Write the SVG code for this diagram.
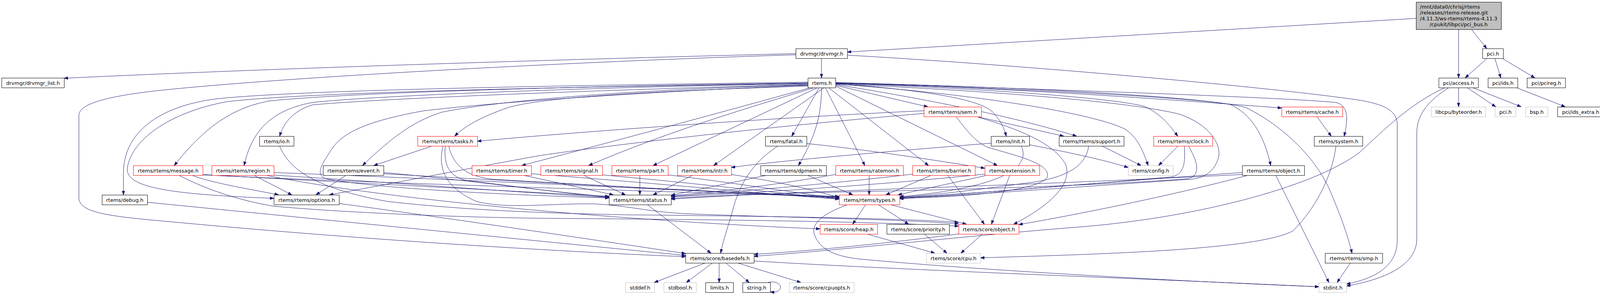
<svg xmlns="http://www.w3.org/2000/svg" width="4110" height="754" viewBox="0 0 4110 754">
<style>
.node rect{fill:#ffffff;stroke:#000000;stroke-width:1}
.node.red rect{stroke:#ff0000}
.node.ext rect{stroke:#bfbfbf}
.node text{font-family:"DejaVu Sans","Liberation Sans",sans-serif;font-size:13px;fill:#000000;text-anchor:middle}
#edges path{fill:none;stroke:#191970;stroke-width:1;marker-end:url(#arr)}
</style>
<defs>
<marker id="arr" markerUnits="userSpaceOnUse" markerWidth="11" markerHeight="8" refX="10" refY="4" orient="auto">
<path d="M0,0.5 L10,4 L0,7.5 z" fill="#191970" stroke="#191970" stroke-width="1"/>
</marker>
</defs>
<rect width="4110" height="754" fill="#ffffff"/>
<g id="edges">
<path d="M3625,47 L2169,133"/>
<path d="M3734,75 L3734,199"/>
<path d="M3767,75 L3806,124"/>
<path d="M3806,150 L3751,199"/>
<path d="M3827,150 L3842,199"/>
<path d="M3847,150 L3929,199"/>
<path d="M3882,224 L4007,273"/>
<path d="M3734,224 L3734,273"/>
<path d="M3756,224 L3829,273"/>
<path d="M3770,224 L3894,273"/>
<path d="M3709,224 C3660,255 3627,290 3627,340 L3627,610 C3627,680 3540,715 3447,731"/>
<path d="M3699,224 C3610,265 3545,330 3480,390 C3360,480 3050,560 2740,582 C2450,605 2150,640 1930,655"/>
<path d="M2037,137 C1600,148 800,170 164,200"/>
<path d="M2037,140 C1400,160 700,200 400,232 C260,248 202,268 202,295 L202,505 C202,545 280,553 450,568 C900,610 1400,642 1755,656"/>
<path d="M2103,150 L2103,199"/>
<path d="M2169,141 C2600,165 3250,222 3480,256 C3550,268 3577,285 3577,320 L3577,614 C3577,680 3520,712 3447,726"/>
<path d="M2068,210 C1500,218 800,228 560,252 C420,268 318,330 316,440 L316,498"/>
<path d="M2068,212 C1500,220 900,236 690,258 C590,276 520,330 446,423"/>
<path d="M2068,214 C1500,223 950,245 800,262 C700,280 645,330 625,423"/>
<path d="M2068,213 C1500,222 800,234 580,260 C430,288 335,360 326,430 C320,482 450,497 701,507"/>
<path d="M2068,216 C1600,228 1000,250 800,268 C745,285 724,320 716,348"/>
<path d="M2068,217 C1700,226 1300,252 1130,287 C1060,310 1010,345 928,423"/>
<path d="M2068,218 C1700,232 1250,262 1080,284 C950,308 880,335 850,380 C820,425 805,450 840,458 C950,478 1200,495 1559,506"/>
<path d="M2068,220 C1700,232 1400,246 1300,275 C1230,300 1190,322 1164,348"/>
<path d="M2075,224 C1800,300 1500,380 1336,423"/>
<path d="M2085,224 C1900,280 1700,340 1507,423"/>
<path d="M2093,224 L1672,423"/>
<path d="M2110,224 L1827,423"/>
<path d="M2097,224 L2027,348"/>
<path d="M2103,224 C2103,290 2090,345 2044,423"/>
<path d="M2113,224 L2214,423"/>
<path d="M2121,224 L2377,423"/>
<path d="M2139,220 L2553,423"/>
<path d="M2139,218 L2375,273"/>
<path d="M2139,213 C2350,230 2500,250 2540,285 C2560,305 2570,325 2576,348"/>
<path d="M2139,216 C2400,258 2600,300 2756,348"/>
<path d="M2139,215 C2500,240 2800,290 2880,330 C2910,350 2925,380 2939,423"/>
<path d="M2139,213 C2500,225 2850,250 2930,272 C2970,290 2995,320 3015,348"/>
<path d="M2139,212 C2600,225 3000,255 3281,276"/>
<path d="M2139,211 C2800,232 3300,250 3420,262 C3455,270 3450,310 3441,348"/>
<path d="M2139,212 C2700,230 3050,250 3149,267 C3200,290 3235,340 3253,423"/>
<path d="M2139,211 C2700,225 3100,250 3190,275 C3300,330 3380,420 3410,500 C3440,570 3455,620 3461,647"/>
<path d="M2139,214 C2600,236 2900,262 3020,292 C3100,320 3125,370 3120,400 C3110,440 3080,455 3050,458 C2700,482 2450,500 2303,508"/>
<path d="M2365,283 C2000,300 1500,335 1222,361"/>
<path d="M2365,290 C2000,320 1550,372 1380,398 C1200,430 1000,470 843,498"/>
<path d="M2505,299 L2723,348"/>
<path d="M2448,299 C2480,340 2500,365 2530,377 C2610,400 2695,420 2680,455 C2650,490 2450,505 2303,506"/>
<path d="M2505,300 C2620,333 2700,370 2728,420 C2750,480 2660,540 2595,573"/>
<path d="M2537,366 C2300,385 2000,410 1872,428"/>
<path d="M2635,370 C2750,392 2830,410 2888,428"/>
<path d="M2615,374 C2640,430 2560,480 2303,503"/>
<path d="M2823,374 L2921,423"/>
<path d="M2787,374 C2780,420 2740,450 2650,465 C2500,485 2400,498 2303,504"/>
<path d="M3015,374 L2966,423"/>
<path d="M3032,374 C3035,420 3030,445 3000,452 C2800,470 2450,498 2303,505"/>
<path d="M3043,374 C3070,420 3072,450 3040,457 C2700,482 2250,488 2100,492 C1900,497 1800,502 1718,507"/>
<path d="M3180,441 C2900,460 2500,494 2303,507"/>
<path d="M3180,446 C2700,470 2300,482 2100,490 C1900,498 1800,504 1718,509"/>
<path d="M3195,448 C3000,500 2750,550 2608,574"/>
<path d="M3266,448 L3402,722"/>
<path d="M2585,448 L2538,573"/>
<path d="M2527,448 L2299,498"/>
<path d="M2521,445 C2300,468 2000,490 1718,503"/>
<path d="M2384,448 L2268,498"/>
<path d="M2426,448 L2520,573"/>
<path d="M2336,445 C2200,462 1900,490 1718,502"/>
<path d="M2225,448 L2225,498"/>
<path d="M2139,446 C2000,470 1850,490 1718,500"/>
<path d="M2067,448 L2183,498"/>
<path d="M1963,448 L1718,499"/>
<path d="M1773,448 L1672,498"/>
<path d="M1872,446 C2000,465 2100,490 2148,505"/>
<path d="M1638,448 L1638,498"/>
<path d="M1710,447 C1900,470 2050,495 2148,507"/>
<path d="M1494,448 L1601,498"/>
<path d="M1542,447 C1800,470 2000,495 2148,508"/>
<path d="M1340,448 L1570,498"/>
<path d="M1360,444 C1700,470 1950,495 2148,509"/>
<path d="M886,448 L809,498"/>
<path d="M982,441 C1200,460 1400,490 1559,503"/>
<path d="M982,444 C1400,468 1900,494 2148,504"/>
<path d="M491,448 C550,470 650,485 713,498"/>
<path d="M518,446 C800,462 1200,482 1559,502"/>
<path d="M519,447 C900,466 1700,490 2148,503"/>
<path d="M458,448 C520,480 600,510 700,527 C900,545 1200,556 1400,558 C1800,561 2200,565 2454,578"/>
<path d="M650,448 L747,498"/>
<path d="M690,447 C1000,466 1300,490 1559,505"/>
<path d="M701,441 C1200,460 1800,488 2148,506"/>
<path d="M680,448 C900,492 1200,522 1400,540 C1700,566 1950,579 2099,585"/>
<path d="M716,374 C740,430 800,480 992,515 C1200,538 1400,545 1600,549 C2000,553 2300,558 2454,568"/>
<path d="M1104,374 L957,423"/>
<path d="M1140,374 C1135,420 1150,455 1200,462 C1350,480 1450,495 1559,504"/>
<path d="M1149,374 C1160,420 1190,450 1260,458 C1600,478 1900,494 2148,502"/>
<path d="M1134,374 C1120,430 1140,480 1220,515 C1300,535 1400,520 1516,521 C1600,524 1650,540 1750,546 C2000,556 2300,560 2454,572"/>
<path d="M1990,374 C1920,420 1890,480 1875,540 C1860,590 1850,620 1845,647"/>
<path d="M2065,367 C2200,380 2400,410 2521,430"/>
<path d="M868,520 C1200,565 1500,610 1755,648"/>
<path d="M377,517 L1755,653"/>
<path d="M1657,523 L1820,647"/>
<path d="M2454,598 C2300,618 2100,640 1930,650"/>
<path d="M2216,523 L2183,573"/>
<path d="M2248,523 L2326,573"/>
<path d="M2279,523 L2474,573"/>
<path d="M2170,523 C2110,545 2075,570 2085,600 C2100,640 2140,655 2200,662 C2500,690 3000,718 3376,733"/>
<path d="M2219,598 L2393,647"/>
<path d="M2366,598 L2424,647"/>
<path d="M2515,598 L2460,647"/>
<path d="M3420,374 C3410,450 3370,530 3310,590 C3220,640 2800,650 2510,659"/>
<path d="M3372,299 L3408,348"/>
<path d="M1806,672 L1675,722"/>
<path d="M1824,672 L1757,722"/>
<path d="M1841,672 L1841,722"/>
<path d="M1858,672 L1918,722"/>
<path d="M1888,672 L2050,722"/>
<path d="M1930,667 C2300,690 3000,715 3376,733"/>
<path d="M1966,722 C1990,716 2002,730 1997,738 C1993,745 1988,748 1972,746"/>
<path d="M3457,672 L3423,722"/>
</g>
<g id="n_pci_bus" class="node"><rect x="3625.5" y="5.5" width="218" height="70" style="fill:#bfbfbf"/><text x="3635" y="22" style="text-anchor:start">/mnt/data0/chrisj/rtems</text><text x="3635" y="37" style="text-anchor:start">/releases/rtems-release.git</text><text x="3635" y="51.5" style="text-anchor:start">/4.11.3/ws-rtems/rtems-4.11.3</text><text x="3734" y="66.5">/cpukit/libpci/pci_bus.h</text></g>
<g id="n_drvmgr" class="node"><rect x="2037.5" y="124.5" width="132" height="25"/><text x="2103.5" y="141.5">drvmgr/drvmgr.h</text></g>
<g id="n_pci" class="node"><rect x="3795.5" y="124.5" width="53" height="25"/><text x="3822" y="141.5">pci.h</text></g>
<g id="n_list" class="node"><rect x="4.5" y="199.5" width="160" height="25"/><text x="84.5" y="216.5">drvmgr/drvmgr_list.h</text></g>
<g id="n_rtems" class="node"><rect x="2068.5" y="199.5" width="71" height="25"/><text x="2104" y="216.5">rtems.h</text></g>
<g id="n_access" class="node"><rect x="3683.5" y="199.5" width="101" height="25"/><text x="3734" y="216.5">pci/access.h</text></g>
<g id="n_ids" class="node"><rect x="3809.5" y="199.5" width="76" height="25"/><text x="3847.5" y="216.5">pci/ids.h</text></g>
<g id="n_pcireg" class="node"><rect x="3909.5" y="199.5" width="98" height="25"/><text x="3958.5" y="216.5">pci/pcireg.h</text></g>
<g id="n_sem" class="node red"><rect x="2365.5" y="273.5" width="147" height="25"/><text x="2439" y="290.5">rtems/rtems/sem.h</text></g>
<g id="n_cache" class="node red"><rect x="3281.5" y="273.5" width="156" height="25"/><text x="3359.5" y="290.5">rtems/rtems/cache.h</text></g>
<g id="n_byteorder" class="node ext"><rect x="3664.5" y="273.5" width="139" height="25"/><text x="3734" y="290.5">libcpu/byteorder.h</text></g>
<g id="n_pci_ext" class="node ext"><rect x="3827.5" y="273.5" width="53" height="25"/><text x="3854" y="290.5">pci.h</text></g>
<g id="n_bsp" class="node ext"><rect x="3905.5" y="273.5" width="57" height="25"/><text x="3934" y="290.5">bsp.h</text></g>
<g id="n_ids_extra" class="node"><rect x="3987.5" y="273.5" width="118" height="25"/><text x="4046.5" y="290.5">pci/ids_extra.h</text></g>
<g id="n_io" class="node"><rect x="664.5" y="348.5" width="88" height="25"/><text x="708.5" y="365.5">rtems/io.h</text></g>
<g id="n_tasks" class="node red"><rect x="1069.5" y="348.5" width="153" height="25"/><text x="1146" y="365.5">rtems/rtems/tasks.h</text></g>
<g id="n_fatal" class="node"><rect x="1959.5" y="348.5" width="106" height="25"/><text x="2012.5" y="365.5">rtems/fatal.h</text></g>
<g id="n_init" class="node"><rect x="2537.5" y="348.5" width="98" height="25"/><text x="2586.5" y="365.5">rtems/init.h</text></g>
<g id="n_support" class="node"><rect x="2711.5" y="348.5" width="166" height="25"/><text x="2794.5" y="365.5">rtems/rtems/support.h</text></g>
<g id="n_clock" class="node red"><rect x="2953.5" y="348.5" width="151" height="25"/><text x="3029" y="365.5">rtems/rtems/clock.h</text></g>
<g id="n_system" class="node"><rect x="3364.5" y="348.5" width="124" height="25"/><text x="3426.5" y="365.5">rtems/system.h</text></g>
<g id="n_message" class="node red"><rect x="341.5" y="423.5" width="178" height="25"/><text x="430.5" y="440.5">rtems/rtems/message.h</text></g>
<g id="n_region" class="node red"><rect x="542.5" y="423.5" width="159" height="25"/><text x="622" y="440.5">rtems/rtems/region.h</text></g>
<g id="n_event" class="node"><rect x="827.5" y="423.5" width="155" height="25"/><text x="905" y="440.5">rtems/rtems/event.h</text></g>
<g id="n_timer" class="node red"><rect x="1208.5" y="423.5" width="152" height="25"/><text x="1284.5" y="440.5">rtems/rtems/timer.h</text></g>
<g id="n_signal" class="node red"><rect x="1384.5" y="423.5" width="158" height="25"/><text x="1463.5" y="440.5">rtems/rtems/signal.h</text></g>
<g id="n_part" class="node red"><rect x="1566.5" y="423.5" width="144" height="25"/><text x="1638.5" y="440.5">rtems/rtems/part.h</text></g>
<g id="n_intr" class="node red"><rect x="1734.5" y="423.5" width="138" height="25"/><text x="1803.5" y="440.5">rtems/rtems/intr.h</text></g>
<g id="n_dpmem" class="node"><rect x="1947.5" y="423.5" width="168" height="25"/><text x="2031.5" y="440.5">rtems/rtems/dpmem.h</text></g>
<g id="n_ratemon" class="node red"><rect x="2139.5" y="423.5" width="173" height="25"/><text x="2226" y="440.5">rtems/rtems/ratemon.h</text></g>
<g id="n_barrier" class="node red"><rect x="2336.5" y="423.5" width="160" height="25"/><text x="2416.5" y="440.5">rtems/rtems/barrier.h</text></g>
<g id="n_extension" class="node red"><rect x="2521.5" y="423.5" width="140" height="25"/><text x="2591.5" y="440.5">rtems/extension.h</text></g>
<g id="n_config" class="node ext"><rect x="2888.5" y="423.5" width="115" height="25"/><text x="2946" y="440.5">rtems/config.h</text></g>
<g id="n_robject" class="node"><rect x="3180.5" y="423.5" width="159" height="25"/><text x="3260" y="440.5">rtems/rtems/object.h</text></g>
<g id="n_debug" class="node"><rect x="261.5" y="498.5" width="116" height="25"/><text x="319.5" y="515.5">rtems/debug.h</text></g>
<g id="n_options" class="node"><rect x="701.5" y="498.5" width="167" height="25"/><text x="785" y="515.5">rtems/rtems/options.h</text></g>
<g id="n_status" class="node"><rect x="1559.5" y="498.5" width="159" height="25"/><text x="1639" y="515.5">rtems/rtems/status.h</text></g>
<g id="n_types" class="node red"><rect x="2148.5" y="498.5" width="155" height="25"/><text x="2226" y="515.5">rtems/rtems/types.h</text></g>
<g id="n_heap" class="node red"><rect x="2099.5" y="573.5" width="147" height="25"/><text x="2173" y="590.5">rtems/score/heap.h</text></g>
<g id="n_priority" class="node"><rect x="2270.5" y="573.5" width="160" height="25"/><text x="2350.5" y="590.5">rtems/score/priority.h</text></g>
<g id="n_sobject" class="node red"><rect x="2454.5" y="573.5" width="154" height="25"/><text x="2531.5" y="590.5">rtems/score/object.h</text></g>
<g id="n_basedefs" class="node"><rect x="1755.5" y="647.5" width="175" height="25"/><text x="1843" y="664.5">rtems/score/basedefs.h</text></g>
<g id="n_cpu" class="node ext"><rect x="2371.5" y="647.5" width="139" height="25"/><text x="2441" y="664.5">rtems/score/cpu.h</text></g>
<g id="n_smp" class="node"><rect x="3392.5" y="647.5" width="147" height="25"/><text x="3466" y="664.5">rtems/rtems/smp.h</text></g>
<g id="n_stddef" class="node ext"><rect x="1601.5" y="722.5" width="74" height="25"/><text x="1638.5" y="739.5">stddef.h</text></g>
<g id="n_stdbool" class="node ext"><rect x="1699.5" y="722.5" width="83" height="25"/><text x="1741" y="739.5">stdbool.h</text></g>
<g id="n_limits" class="node"><rect x="1806.5" y="722.5" width="71" height="25"/><text x="1842" y="739.5">limits.h</text></g>
<g id="n_string" class="node"><rect x="1901.5" y="722.5" width="71" height="25"/><text x="1937" y="739.5">string.h</text></g>
<g id="n_cpuopts" class="node ext"><rect x="2020.5" y="722.5" width="166" height="25"/><text x="2103.5" y="739.5">rtems/score/cpuopts.h</text></g>
<g id="n_stdint" class="node ext"><rect x="3376.5" y="722.5" width="71" height="25"/><text x="3412" y="739.5">stdint.h</text></g>
</svg>
